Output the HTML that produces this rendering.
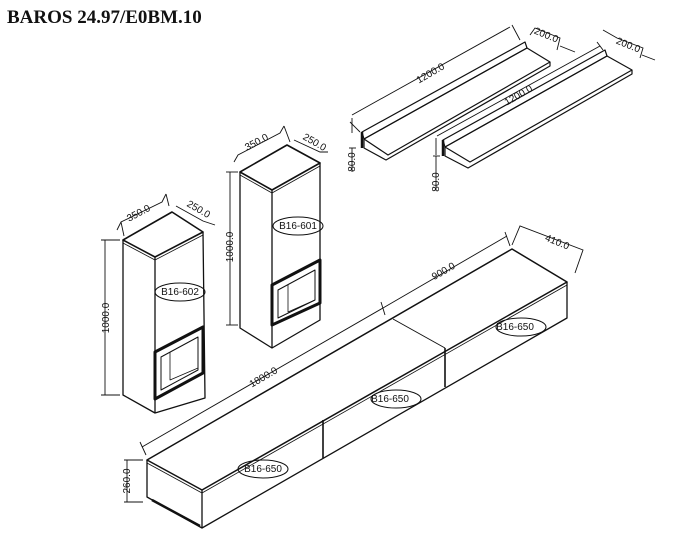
<!DOCTYPE html>
<html><head><style>
html,body{margin:0;padding:0;background:#fff;width:674px;height:544px;overflow:hidden}
svg{display:block}
text{font-family:"Liberation Sans",sans-serif;font-size:10px;fill:#111}
</style></head><body>
<svg width="674" height="544" viewBox="0 0 674 544" xmlns="http://www.w3.org/2000/svg">
<text x="7" y="23" style="font-family:'Liberation Serif',serif;font-weight:bold;font-size:19px">BAROS 24.97/E0BM.10</text>
<g fill="none" stroke="#111" stroke-width="1.3" stroke-linejoin="round">
<polygon points="123,240 172,212 203,232 155,257" stroke-width="1.6"/>
<line x1="123" y1="243" x2="155" y2="260" stroke-width="0.8"/>
<line x1="155" y1="260" x2="203" y2="235" stroke-width="0.8"/>
<polyline points="123,240 123,395 155,413 205,398 203,232"/>
<line x1="155" y1="257" x2="155" y2="413"/>
<polygon points="155,352 203,327 203,373 155,399" stroke-width="3"/>
<polygon points="161,357 198,337 198,370 161,390" stroke-width="1"/>
<polyline points="170,352 170,380 198,368" stroke-width="0.8"/>
<ellipse cx="180" cy="292" rx="25" ry="9" stroke-width="1"/>
<polygon points="240,172 287,145 320,163 272,190" stroke-width="1.6"/>
<line x1="240" y1="175" x2="272" y2="193" stroke-width="0.8"/>
<line x1="272" y1="193" x2="320" y2="166" stroke-width="0.8"/>
<polyline points="240,172 240,328 272,348 320,320 320,163"/>
<line x1="272" y1="190" x2="272" y2="348"/>
<polygon points="272,285 320,260 320,303 272,325" stroke-width="3"/>
<polygon points="278,290 315,270 315,300 278,318" stroke-width="1"/>
<polyline points="288,285 288,312 315,300" stroke-width="0.8"/>
<ellipse cx="298" cy="226" rx="25" ry="9" stroke-width="1"/>
<polygon points="147,460 512,249 567,282 202,490" stroke-width="1.5"/>
<line x1="147" y1="463" x2="202" y2="493" stroke-width="0.8"/>
<line x1="202" y1="493" x2="567" y2="285" stroke-width="0.8"/>
<polyline points="147,460 147,497 202,528 567,318 567,282"/>
<line x1="202" y1="490" x2="202" y2="528"/>
<line x1="393" y1="319" x2="445" y2="348" stroke-width="1"/>
<line x1="323" y1="420" x2="323" y2="458" stroke-width="1.6"/>
<line x1="445" y1="348" x2="445" y2="387" stroke-width="1.6"/>
<line x1="152" y1="500" x2="200" y2="526" stroke-width="2.5"/>
<ellipse cx="263" cy="469" rx="25" ry="9" stroke-width="1"/>
<ellipse cx="396" cy="399" rx="25" ry="9" stroke-width="1"/>
<ellipse cx="521" cy="327" rx="25" ry="9" stroke-width="1"/>
<polygon points="362,132 525,42 527,48 364,139" stroke-width="1.2"/>
<polygon points="364,139 527,48 550,62 388,155" stroke-width="1.2"/>
<polyline points="364,139 364,148 386,160 550,66 550,62" stroke-width="1.2"/>
<line x1="362" y1="132" x2="362" y2="148" stroke-width="2.5"/>
<polygon points="443,140 605,50 607,56 445,147" stroke-width="1.2"/>
<polygon points="445,147 607,56 632,70 470,162" stroke-width="1.2"/>
<polyline points="445,147 445,156 468,168 632,74 632,70" stroke-width="1.2"/>
<line x1="443" y1="140" x2="443" y2="156" stroke-width="2.5"/>
</g>
<g fill="none" stroke="#111" stroke-width="0.9">
<line x1="105" y1="240" x2="105" y2="395"/><line x1="101" y1="240" x2="120" y2="240"/><line x1="101" y1="395" x2="120" y2="395"/>
<line x1="230" y1="172" x2="230" y2="325"/><line x1="226" y1="172" x2="238" y2="172"/><line x1="226" y1="325" x2="238" y2="325"/>
<polyline points="117,230 121,222 162,202 166,194"/><polyline points="166,194 169,206"/>
<line x1="121" y1="222" x2="124" y2="236"/>
<polyline points="176,206 203,221 215,225"/>
<polyline points="234,162 238,155 280,133 284,126"/><line x1="284" y1="126" x2="290" y2="142"/>
<polyline points="294,140 320,152 328,152"/>
<polyline points="142,447 383,308 507,236"/><line x1="140" y1="442" x2="146" y2="455"/><line x1="381" y1="302" x2="385" y2="315"/><line x1="505" y1="232" x2="510" y2="246"/>
<polyline points="512,245 520,226 583,250 575,273"/>
<line x1="127" y1="460" x2="127" y2="502"/><line x1="124" y1="460" x2="143" y2="460"/><line x1="124" y1="502" x2="143" y2="502"/>
<polyline points="352,115 510,27"/><line x1="350" y1="122" x2="360" y2="132"/><line x1="512" y1="25" x2="520" y2="40"/>
<polyline points="530,35 535,28 560,38 557,50"/><line x1="560" y1="46" x2="575" y2="52"/>
<polyline points="437,136 600,46"/><line x1="597" y1="42" x2="603" y2="50"/>
<polyline points="603,30 617,38 643,48 640,58"/><line x1="642" y1="55" x2="655" y2="60"/>
<line x1="352" y1="118" x2="352" y2="133"/><line x1="352" y1="148" x2="352" y2="172"/><line x1="349" y1="148" x2="356" y2="148"/>
<line x1="436" y1="138" x2="436" y2="155"/><line x1="436" y1="156" x2="436" y2="190"/><line x1="433" y1="156" x2="440" y2="156"/>
</g>
<g>
<text transform="translate(109,318) rotate(-90)" text-anchor="middle">1000.0</text>
<text transform="translate(233,247) rotate(-90)" text-anchor="middle">1000.0</text>
<text transform="translate(130,481) rotate(-90)" text-anchor="middle">260.0</text>
<text transform="translate(355,162) rotate(-90)" text-anchor="middle">80.0</text>
<text transform="translate(439,182) rotate(-90)" text-anchor="middle">80.0</text>
<text transform="translate(140,216) rotate(-28)" text-anchor="middle">350.0</text>
<text transform="translate(197,212) rotate(30)" text-anchor="middle">250.0</text>
<text transform="translate(258,145) rotate(-28)" text-anchor="middle">350.0</text>
<text transform="translate(313,145) rotate(30)" text-anchor="middle">250.0</text>
<text transform="translate(265,380) rotate(-30)" text-anchor="middle">1800.0</text>
<text transform="translate(445,274) rotate(-30)" text-anchor="middle">900.0</text>
<text transform="translate(556,245) rotate(22)" text-anchor="middle">410.0</text>
<text transform="translate(432,76) rotate(-30)" text-anchor="middle">1200.0</text>
<text transform="translate(520,98) rotate(-30)" text-anchor="middle">1200.0</text>
<text transform="translate(545,38) rotate(22)" text-anchor="middle">200.0</text>
<text transform="translate(627,48) rotate(22)" text-anchor="middle">200.0</text>
<text x="180" y="295" text-anchor="middle">B16-602</text>
<text x="298" y="229" text-anchor="middle">B16-601</text>
<text x="263" y="472" text-anchor="middle">B16-650</text>
<text x="390" y="402" text-anchor="middle">B16-650</text>
<text x="515" y="330" text-anchor="middle">B16-650</text>
</g>
</svg>
</body></html>
